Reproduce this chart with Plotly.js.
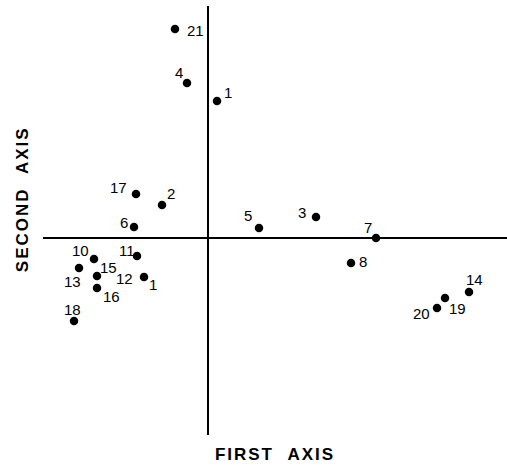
<!DOCTYPE html>
<html>
<head>
<meta charset="utf-8">
<script src="https://cdn.plot.ly/plotly-3.0.1.min.js"></script>
<style>
html, body { margin: 0; padding: 0; background: #fff; }
#chart { width: 507px; height: 466px; }
</style>
</head>
<body>
<div id="chart"></div>
<script>
// Point labels (observation numbers)
const labels = ['21','4','1','17','2','6','5','3','7','8','14','19','20','10','11','13','15','12','16','18'];
// First axis coordinates
const firstAxis = [-0.66,-0.42,0.18,-1.44,-0.92,-1.48,1.02,2.16,3.36,2.86,5.22,4.74,4.58,-2.28,-1.42,-2.58,-2.22,-1.28,-2.22,-2.68];
// Second axis coordinates
const secondAxis = [4.18,3.10,2.74,0.88,0.66,0.22,0.20,0.42,0.00,-0.50,-1.08,-1.20,-1.40,-0.42,-0.36,-0.60,-0.76,-0.78,-1.00,-1.66];
// Extra stray label printed beside point "12"
const extraLabel = '1';
const extraLabelAt = '12';

// Label placement (pixel offsets from each point: right, down) - styling only
const labelOffset = [[20,1],[-8,-11],[11,-9],[-18,-7],[9,-12],[-10,-5],[-11,-13],[-14,-5],[-8,-11],[12,-2],
                     [5,-13],[12,10],[-16,5],[-14,-9],[-10,-6],[-7,13],[11,-9],[-20,1],[14,8],[-2,-12]];
const extraOffset = [9,7];

const FONT = 'Liberation Sans, Arial, Helvetica, sans-serif';

const trace = {
  type: 'scatter',
  mode: 'markers',
  x: firstAxis,
  y: secondAxis,
  hovertext: labels,
  hoverinfo: 'text',
  marker: { color: '#000', size: 8.5 },
  cliponaxis: false
};

function labelAnn(txt, x, y, off) {
  return {
    text: txt, x: x, y: y, xref: 'x', yref: 'y',
    xanchor: 'center', yanchor: 'middle',
    xshift: off[0], yshift: -off[1],
    showarrow: false,
    font: { family: FONT, size: 15, color: '#000' }
  };
}

const annotations = labels.map(function (l, i) { return labelAnn(l, firstAxis[i], secondAxis[i], labelOffset[i]); });
const iExtra = labels.indexOf(extraLabelAt);
annotations.push(labelAnn(extraLabel, firstAxis[iExtra], secondAxis[iExtra], extraOffset));
annotations.push({
  text: 'SECOND\u00a0\u00a0AXIS',
  xref: 'paper', yref: 'paper',
  x: -0.045, y: 0.55,
  xanchor: 'center', yanchor: 'middle',
  textangle: -90,
  showarrow: false,
  font: { family: FONT, size: 17, color: '#000', weight: 'bold' }
});

const layout = {
  width: 507,
  height: 466,
  margin: { l: 43, r: 0, t: 6, b: 31, pad: 0 },
  paper_bgcolor: '#fff',
  plot_bgcolor: '#fff',
  showlegend: false,
  xaxis: {
    range: [-3.3, 5.98],
    showgrid: false,
    showticklabels: false,
    ticks: '',
    showline: false,
    zeroline: true,
    zerolinecolor: '#000',
    zerolinewidth: 2,
    title: { text: 'FIRST\u00a0\u00a0AXIS', font: { family: FONT, size: 17, color: '#000', weight: 'bold' }, standoff: 13 },
    automargin: false
  },
  yaxis: {
    range: [-3.94, 4.64],
    showgrid: false,
    showticklabels: false,
    ticks: '',
    showline: false,
    zeroline: true,
    zerolinecolor: '#000',
    zerolinewidth: 2,
    automargin: false
  },
  annotations: annotations
};

Plotly.newPlot('chart', [trace], layout, { displayModeBar: false, staticPlot: true }).then(function () {
  document.querySelectorAll('#chart text').forEach(function (t) {
    const s = t.textContent.replace(/\u00a0/g, ' ');
    if (s === 'FIRST  AXIS' || s === 'SECOND  AXIS') t.style.letterSpacing = '2px';
  });
});
</script>
</body>
</html>
